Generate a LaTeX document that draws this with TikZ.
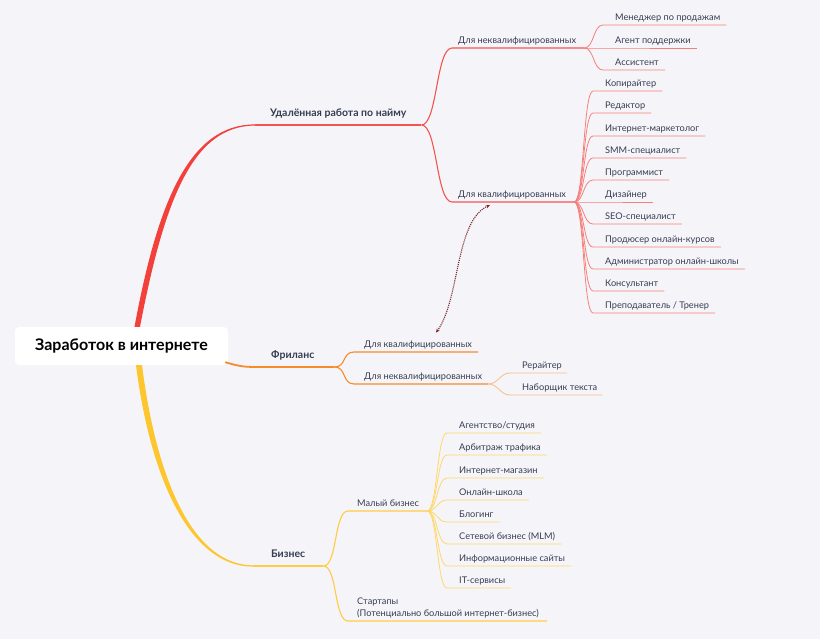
\documentclass[tikz,border=0pt]{standalone}
\usepackage{fontspec}
\setmainfont{Lato}
\usetikzlibrary{arrows.meta}

\definecolor{paper}{HTML}{F5F5F9}
\definecolor{ink}{HTML}{363D52}
\definecolor{mmRed}{HTML}{F2403A}
\definecolor{mmRedSub}{HTML}{F2554F}
\definecolor{mmRedLeaf}{HTML}{F57F7B}
\definecolor{mmOrange}{HTML}{F68B2C}
\definecolor{mmOrangeLeaf}{HTML}{F9BC8A}
\definecolor{mmYellow}{HTML}{FEC62E}
\definecolor{mmYellowSub}{HTML}{FFCC45}
\definecolor{mmYellowLeaf}{HTML}{FFD76A}
\definecolor{mmLink}{HTML}{7A2828}

\begin{document}
\begin{tikzpicture}[x=1pt,y=-1pt,
	root/.style={fill=white,rounded corners=4pt,minimum width=213pt,minimum height=38pt,inner sep=0pt,font=\fontsize{16}{18}\selectfont\bfseries,text=black},
	topic/.style={anchor=south west,inner sep=0pt,text depth=8.5pt,text=ink,font=\fontsize{10.5}{12}\selectfont\bfseries},
	leaf/.style={anchor=south west,inner sep=0pt,text height=7pt,text depth=4pt,text=ink,font=\fontsize{9.2}{12}\selectfont},
	twig/.style={line width=1.1pt},
	leafline/.style={line width=0.8pt},
	>={Stealth[length=4pt,width=3.5pt]},
	link/.style={draw=mmLink,line width=1.1pt,densely dotted,<->}]

\fill[paper] (0,0) rectangle (820,639);
\useasboundingbox (0,0) rectangle (820,639);

\node[root] (root) at (121.5,346) {Заработок в интернете};

% remote work
\node[topic] (rw) at (270,125) {Удалённая работа по найму};
\coordinate (rw-end) at ([xshift=15pt]rw.south east);
\fill[mmRed] ([xshift=13pt]root.north) .. controls (158,200) and (190,124.4) .. ([xshift=-15pt,yshift=0.6pt]rw.south west)
	-- ([xshift=-15pt,yshift=-0.6pt]rw.south west) .. controls (192,125.6) and (164,202) .. ([xshift=18.5pt]root.north) -- cycle;
\draw[mmRedSub,twig] ([xshift=-15pt]rw.south west) -- (rw-end);

\node[leaf] (rn) at (458,48) {Для неквалифицированных};
\node[leaf] (rq) at (458,202) {Для квалифицированных};
\foreach \n in {rn,rq} {
	\coordinate (\n-end) at ([xshift=8pt]\n.south east);
	\draw[mmRedSub,twig] (rw-end) .. controls +(16,0) and +(-16,0) .. ([xshift=-6pt]\n.south west) -- (\n-end);
}

\foreach \t/\y [count=\i] in {Менеджер по продажам/25,Агент поддержки/48,Ассистент/70} {
	\node[leaf] (rn\i) at (615,\y) {\t};
	\draw[mmRedLeaf,leafline] (rn-end) .. controls +(10,0) and +(-10,0) .. ([xshift=-12pt]rn\i.south west) -- ([xshift=6pt]rn\i.south east);
}

\foreach \t/\y [count=\i] in {Копирайтер/91,Редактор/113,Интернет-маркетолог/136,SMM-специалист/158,Программист/180,Дизайнер/202,
		SEO-специалист/224,Продюсер онлайн-курсов/247,Администратор онлайн-школы/269,Консультант/291,{Преподаватель / Тренер}/313} {
	\node[leaf] (rq\i) at (605,\y) {\t};
	\draw[mmRedLeaf,leafline] (rq-end) .. controls +(10,0) and +(-10,0) .. ([xshift=-12pt]rq\i.south west) -- ([xshift=6pt]rq\i.south east);
}

% freelance
\node[topic] (fr) at (271,367) {Фриланс};
\coordinate (fr-end) at ([xshift=20pt]fr.south east);
\draw[mmOrange,line width=1.8pt] ([xshift=-3pt,yshift=3pt]root.south east) .. controls +(14,4) and +(-14,0) .. ([xshift=-14pt]fr.south west) -- (fr-end);

\node[leaf] (fq) at (364,352) {Для квалифицированных};
\node[leaf] (fn) at (364,384) {Для неквалифицированных};
\foreach \n in {fq,fn} {
	\coordinate (\n-end) at ([xshift=6pt]\n.south east);
	\draw[mmOrange,twig] (fr-end) .. controls +(12,0) and +(-12,0) .. ([xshift=-10pt]\n.south west) -- (\n-end);
}

\foreach \t/\y [count=\i] in {Рерайтер/373,Наборщик текста/395} {
	\node[leaf] (fn\i) at (522,\y) {\t};
	\draw[mmOrangeLeaf,leafline] (fn-end) .. controls +(10,0) and +(-10,0) .. ([xshift=-12pt]fn\i.south west) -- ([xshift=5pt]fn\i.south east);
}

% business
\node[topic] (bz) at (271,566) {Бизнес};
\coordinate (bz-end) at ([xshift=18pt]bz.south east);
\fill[mmYellow] ([xshift=14.5pt]root.south) .. controls (152,490) and (195,567) .. ([xshift=-18pt,yshift=-0.6pt]bz.south west)
	-- ([xshift=-18pt,yshift=0.6pt]bz.south west) .. controls (197,565) and (158,490) .. ([xshift=20.5pt]root.south) -- cycle;
\draw[mmYellowSub,twig] ([xshift=-18pt]bz.south west) -- (bz-end);

\node[leaf] (bs) at (357,511) {Малый бизнес};
\node[leaf,align=left] (bst) at (357,621) {Стартапы\\(Потенциально большой интернет-бизнес)};
\foreach \n in {bs,bst} {
	\coordinate (\n-end) at ([xshift=8pt]\n.south east);
	\draw[mmYellowSub,twig] (bz-end) .. controls +(14,0) and +(-14,0) .. ([xshift=-9pt]\n.south west) -- (\n-end);
}

\foreach \t/\y [count=\i] in {{Агентство/студия}/433,Арбитраж трафика/455,Интернет-магазин/478,Онлайн-школа/500,Блогинг/522,
		Сетевой бизнес (MLM)/544,Информационные сайты/566,IT-сервисы/588} {
	\node[leaf] (bs\i) at (459,\y) {\t};
	\draw[mmYellowLeaf,leafline] (bs-end) .. controls +(10,0) and +(-10,0) .. ([xshift=-12pt]bs\i.south west) -- ([xshift=6pt]bs\i.south east);
}

% cross link
\draw[link] ([xshift=72pt,yshift=8pt]fq.north west) .. controls +(24,-33) and +(-35,16) .. ([xshift=32pt,yshift=-3pt]rq.south west);
\end{tikzpicture}
\end{document}
